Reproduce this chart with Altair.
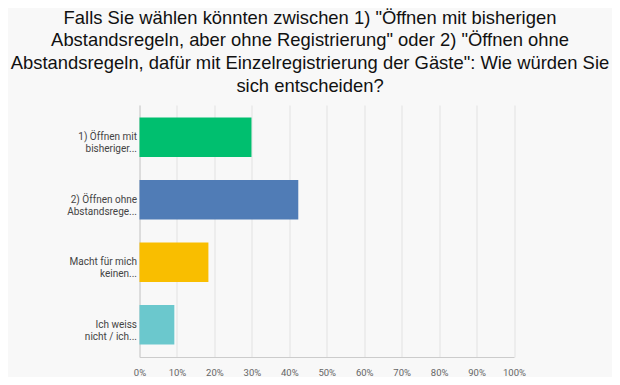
import altair as alt
import pandas as pd

categories = [
    "1) Öffnen mit\nbisheriger...",
    "2) Öffnen ohne\nAbstandsrege...",
    "Macht für mich\nkeinen...",
    "Ich weiss\nnicht / ich...",
]
values = [0.299, 0.424, 0.184, 0.093]
colors = ["#00bf6f", "#507cb6", "#f9be00", "#6bc8cd"]
title_lines = [
    "Falls Sie wählen könnten zwischen 1) \"Öffnen mit bisherigen",
    "Abstandsregeln, aber ohne Registrierung\" oder 2) \"Öffnen ohne",
    "Abstandsregeln, dafür mit Einzelregistrierung der Gäste\": Wie würden Sie",
    "sich entscheiden?",
]

df = pd.DataFrame({"cat": categories, "val": values})

chart = (
    alt.Chart(df)
    .mark_bar()
    .encode(
        y=alt.Y(
            "cat:N",
            sort=categories,
            title=None,
            scale=alt.Scale(paddingInner=0.37, paddingOuter=0.2),
            axis=alt.Axis(
                labelExpr="split(datum.label, '\\n')",
                labelFont="Roboto",
                labelFontSize=10,
                labelColor="#444444",
                labelLineHeight=12,
                labelPadding=3,
                labelLimit=200,
                ticks=False,
                domain=True,
                domainColor="#cccccc",
                grid=False,
            ),
        ),
        x=alt.X(
            "val:Q",
            title=None,
            scale=alt.Scale(domain=[0, 1], nice=False),
            axis=alt.Axis(
                format=".0%",
                values=[i / 10 for i in range(11)],
                labelFont="Roboto",
                labelFontSize=9.5,
                labelColor="#666666",
                labelPadding=10,
                ticks=False,
                domainColor="#cccccc",
                gridColor="#e2e2e2",
                labelFlush=False,
            ),
        ),
        color=alt.Color(
            "cat:N",
            scale=alt.Scale(domain=categories, range=colors),
            legend=None,
        ),
    )
    .properties(
        width=374.5,
        height=252,
        autosize=alt.AutoSizeParams(type="none"),
        padding={"left": 131.5, "top": 97, "right": 98, "bottom": 20},
        background="#f8f8f8",
        title=alt.TitleParams(
            text=title_lines,
            font="Liberation Sans",
            fontSize=18.4,
            fontWeight="normal",
            color="#111111",
            anchor="middle",
            lineHeight=22.7,
            dx=-16.75,
            offset=10,
        ),
    )
    .configure_view(stroke=None)
)

chart.save("out.html", embed_options={"renderer": "svg", "actions": False})
